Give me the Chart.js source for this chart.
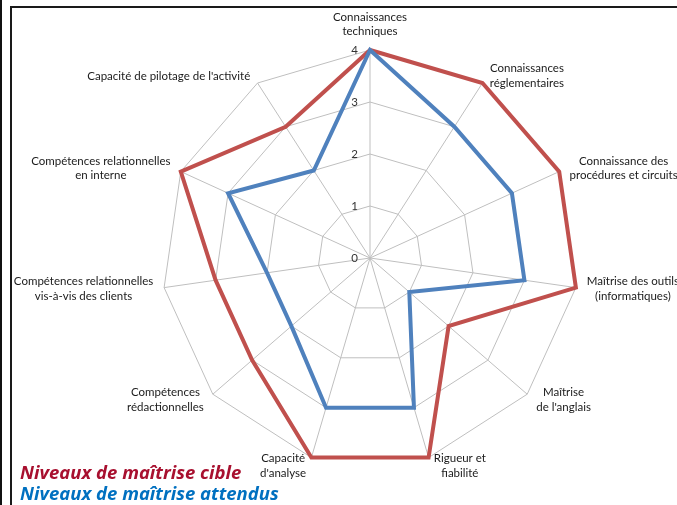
<!DOCTYPE html>
<html>
<head>
<meta charset="utf-8">
<script src="https://cdn.jsdelivr.net/npm/chart.js@4"></script>
<style>
  html, body { margin: 0; padding: 0; background: #fff; }
  body { width: 677px; height: 505px; position: relative; overflow: hidden; }
  #chart { position: absolute; left: 0; top: 0; }
  .edge { position: absolute; left: 0; top: 0; width: 2px; height: 505px; background: #111; }
  .frame { position: absolute; left: 10px; top: 6px; width: 700px; height: 600px; border-top: 2px solid #1a1a1a; border-left: 2px solid #1a1a1a; }
  .legend { position: absolute; left: 20px; top: 461px; font: italic bold 18.5px "Open Sans", sans-serif; line-height: 21px; }
</style>
</head>
<body>
<div class="edge"></div>
<div class="frame"></div>
<canvas id="chart" width="677" height="505"></canvas>
<div class="legend">
  <div style="color:#A8102F">Niveaux de maîtrise cible</div>
  <div style="color:#0070C0">Niveaux de maîtrise attendus</div>
</div>
<script>
const categories = [
  ['Connaissances', 'techniques'],
  ['Connaissances', 'réglementaires'],
  ['Connaissance des', 'procédures et circuits'],
  ['Maîtrise des outils', '(informatiques)'],
  ['Maîtrise', "de l'anglais"],
  ['Rigueur et', 'fiabilité'],
  ['Capacité', "d'analyse"],
  ['Compétences', 'rédactionnelles'],
  ['Compétences relationnelles', 'vis-à-vis des clients'],
  ['Compétences relationnelles', 'en interne'],
  ["Capacité de pilotage de l'activité"]
];
const cibleValues = [4, 4, 4, 4, 2, 4, 4, 3, 3, 4, 3];
const attendusValues = [4, 3, 3, 3, 1, 3, 3, 2, 2, 3, 2];
const tickValues = [0, 1, 2, 3, 4];

// labels placed the way Excel does it: beside the spoke end, roughly centred on it
const excelLabels = {
  id: 'excelLabels',
  afterDraw(chart) {
    const r = chart.scales.r;
    const ctx = chart.ctx;
    const lh = 14.5;
    ctx.save();
    ctx.font = '11.5px Lato, sans-serif';
    ctx.fillStyle = '#1a1a1a';
    ctx.textAlign = 'center';
    ctx.textBaseline = 'middle';
    categories.forEach((lines, i) => {
      const a = r.getIndexAngle(i);
      const s = Math.sin(a), c = Math.cos(a);
      const p = r.getPointPosition(i, r.drawingArea);
      const w = Math.max(...lines.map(t => ctx.measureText(t).width));
      const h = lines.length * lh;
      let cx, cy;
      if (Math.abs(s) < 0.05) {
        cx = p.x;
        cy = c > 0 ? p.y - 11 - h / 2 : p.y + 11 + h / 2;
      } else {
        const gap = 3 + 8 * Math.abs(s);
        cx = s > 0 ? p.x + gap + w / 2 : p.x - gap - w / 2;
        cy = p.y - c * 8.5;
      }
      lines.forEach((t, k) => ctx.fillText(t, cx, cy - h / 2 + lh * (k + 0.5)));
    });

    // value ticks on the left of the vertical spoke
    ctx.fillStyle = '#333';
    ctx.textAlign = 'right';
    r.ticks.forEach(t => {
      const d = r.getDistanceFromCenterForValue(t.value);
      ctx.fillText(String(t.value), r.xCenter - 12, r.yCenter - d);
    });
    ctx.restore();
  }
};

Chart.defaults.font.family = 'Lato, sans-serif';

new Chart(document.getElementById('chart').getContext('2d'), {
  type: 'radar',
  data: {
    labels: categories,
    datasets: [
      {
        label: 'Niveaux de maîtrise cible',
        data: cibleValues,
        borderColor: '#C0504D',
        borderWidth: 4,
        pointRadius: 0,
        fill: false,
        order: 1,
      },
      {
        label: 'Niveaux de maîtrise attendus',
        data: attendusValues,
        borderColor: '#4F81BD',
        borderWidth: 4,
        pointRadius: 0,
        fill: false,
        order: 0,
      },
    ],
  },
  options: {
    responsive: false,
    animation: false,
    layout: { padding: { left: 162, right: 99, top: 50, bottom: 39 } },
    plugins: {
      legend: { display: false },
      tooltip: { enabled: false },
    },
    scales: {
      r: {
        min: tickValues[0],
        max: tickValues[tickValues.length - 1],
        ticks: { display: false, stepSize: 1 },
        grid: { color: '#BFBFBF', lineWidth: 1 },
        angleLines: { color: '#BFBFBF', lineWidth: 1 },
        pointLabels: { display: false },
      },
    },
  },
  plugins: [excelLabels],
});
</script>
</body>
</html>
